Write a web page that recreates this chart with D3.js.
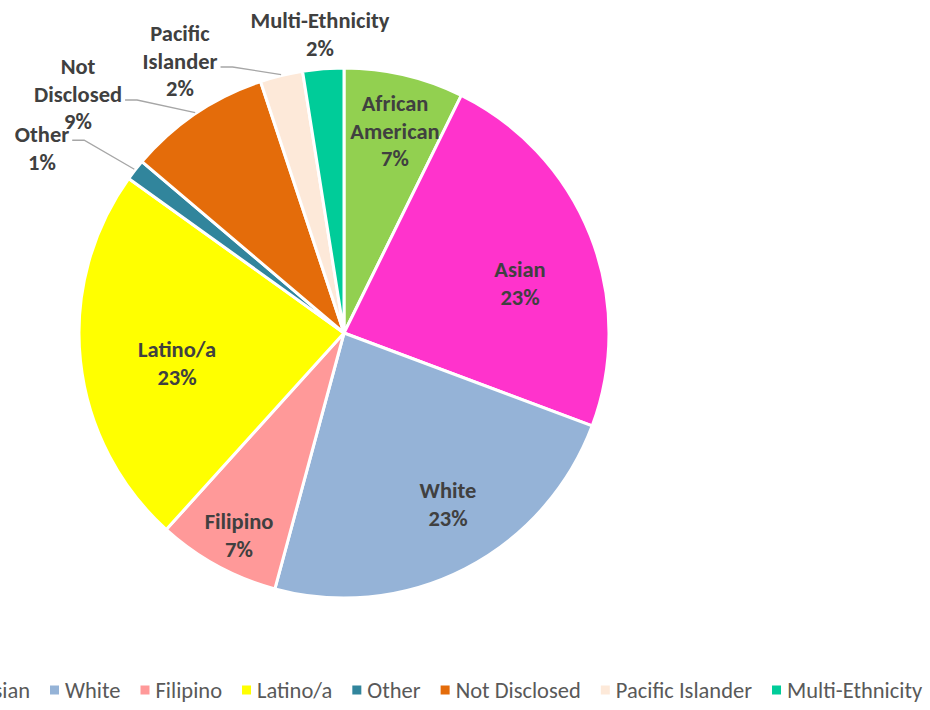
<!DOCTYPE html>
<html>
<head>
<meta charset="utf-8">
<script src="https://d3js.org/d3.v7.min.js"></script>
<style>
  body { margin: 0; background: #fff; }
</style>
</head>
<body>
<div id="chart"></div>
<script>

    // data
    var categories = ["African American", "Asian", "White", "Filipino", "Latino/a",
                      "Other", "Not Disclosed", "Pacific Islander", "Multi-Ethnicity"];
    var values = [7.3, 23.4, 23.5, 7.5, 23.2, 1.3, 8.7, 2.6, 2.5];
    var pctLabels = ["7%", "23%", "23%", "7%", "23%", "1%", "9%", "2%", "2%"];
    var colors = ["#92D050", "#FF33CC", "#95B3D7", "#FF9999", "#FFFF00",
                  "#31859C", "#E46C0A", "#FDE9D9", "#00CC99"];

    // label text split into lines as shown in the chart
    var labelLines = [["African", "American"], ["Asian"], ["White"], ["Filipino"], ["Latino/a"],
                      ["Other"], ["Not", "Disclosed"], ["Pacific", "Islander"], ["Multi-Ethnicity"]];

    var width = 930, height = 710;
    var cx = 344, cy = 333, radius = 265;

    var svg = d3.select("#chart")
      .append("svg")
        .attr("width", width)
        .attr("height", height);

    var g = svg.append("g")
        .attr("transform", "translate(" + cx + "," + cy + ")");

    var pie = d3.pie().sort(null).value(function(d) { return d; });
    var arcs = pie(values);

    var arc = d3.arc().innerRadius(0).outerRadius(radius);

    g.selectAll("path.slice")
      .data(arcs)
      .enter()
      .append("path")
        .attr("class", "slice")
        .attr("d", arc)
        .style("fill", function(d, i) { return colors[i]; })
        .style("stroke", "#fff")
        .style("stroke-width", 3)
        .style("stroke-linejoin", "round");

    var fontFam = "Carlito, Lato, 'Open Sans', sans-serif";
    var lineH = 27.5;

    function midAngle(d) { return (d.startAngle + d.endAngle) / 2; }

    // label block centres relative to the pie centre (as placed by Excel)
    var labelPos = [[51, -202], [176, -50], [104, 171], [-105, 202], [-167, 30],
                    [-302, -185], [-266, -239], [-164, -272], [-24, -299]];
    // which line the leader line leaves from (-1 = no leader)
    var leaderLine = [-1, -1, -1, -1, -1, 0, 1, 1, -1];

    arcs.forEach(function(d, i) {
      var lines = labelLines[i].concat([pctLabels[i]]);
      var pos = labelPos[i];
      var top = pos[1] - (lines.length - 1) * lineH / 2;
      var t = g.append("text")
          .attr("text-anchor", "middle")
          .style("font-family", fontFam)
          .style("font-weight", "bold")
          .style("font-size", "22.5px")
          .style("fill", "#404040");
      var spans = [];
      lines.forEach(function(s, k) {
        spans.push(t.append("tspan")
          .attr("x", pos[0])
          .attr("y", top + k * lineH)
          .attr("dy", "0.35em")
          .text(s));
      });

      // leader lines for the small outer labels
      var li = leaderLine[i];
      if (li >= 0) {
        var w = spans[li].node().getComputedTextLength();
        var sx = pos[0] + w / 2 + 3;
        var sy = top + li * lineH + 6;
        var a = midAngle(d);
        var ex = Math.sin(a) * (radius + 1), ey = -Math.cos(a) * (radius + 1);
        g.append("polyline")
          .attr("points", [[sx, sy], [sx + 12, sy], [ex, ey]].map(function(p) { return p.join(","); }).join(" "))
          .style("fill", "none")
          .style("stroke", "#A6A6A6")
          .style("stroke-width", 1.3);
      }
    });

    // legend along the bottom (first items run off the left edge, like the original)
    var legend = svg.append("g").attr("transform", "translate(0,690)");
    var xPos = 0, items = [];
    categories.forEach(function(c, i) {
      var it = legend.append("g");
      it.append("rect")
        .attr("y", -4.5)
        .attr("width", 9)
        .attr("height", 9)
        .style("fill", colors[i]);
      var tx = it.append("text")
        .attr("x", 15)
        .attr("dy", "0.35em")
        .style("font-family", fontFam)
        .style("font-size", "22.5px")
        .style("fill", "#595959")
        .text(c);
      items.push({g: it, x: xPos});
      xPos += 15 + tx.node().getComputedTextLength() + 20;
    });
    var shift = 50 - items[2].x;
    items.forEach(function(it) {
      it.g.attr("transform", "translate(" + (it.x + shift) + ",0)");
    });

</script>
</body>
</html>
